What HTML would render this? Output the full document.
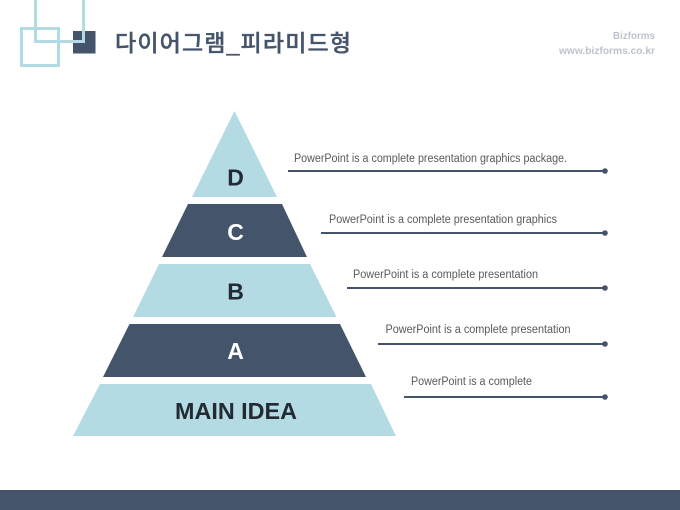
<!DOCTYPE html>
<html lang="ko">
<head>
<meta charset="utf-8">
<style>
html,body{margin:0;padding:0;width:680px;height:510px;background:#fff;overflow:hidden}
svg{display:block;filter:blur(0.3px)}
.k{font-family:"Liberation Sans","Noto Sans CJK KR",sans-serif}
.t{font-family:"Liberation Sans",sans-serif;font-size:11.5px;fill:#595959}
.l{font-family:"Liberation Sans",sans-serif;font-weight:700;font-size:23px;fill:#222b33;text-anchor:middle}
</style>
</head>
<body>
<svg width="680" height="510" viewBox="0 0 680 510" xmlns="http://www.w3.org/2000/svg">
<rect width="680" height="510" fill="#ffffff"/>
<rect x="0" y="490" width="680" height="20" fill="#44546a"/>

<!-- logo -->
<rect x="73" y="31" width="22.5" height="22.5" fill="#44546a"/>
<rect x="21.5" y="28.5" width="37" height="37" fill="none" stroke="#b4dae4" stroke-width="3"/>
<path d="M35.500 0V41.500H83.500V0" fill="none" stroke="#b4dae4" stroke-width="3"/>

<!-- title -->
<text class="k" x="115" y="51" font-size="23" font-weight="500" fill="#44546a" stroke="#44546a" stroke-width="0.35" textLength="236" lengthAdjust="spacing">다이어그램_피라미드형</text>
<text x="655" y="39" text-anchor="end" font-family="Liberation Sans,sans-serif" font-size="10" font-weight="700" fill="#bcc3cd" textLength="42" lengthAdjust="spacingAndGlyphs">Bizforms</text>
<text x="655" y="54" text-anchor="end" font-family="Liberation Sans,sans-serif" font-size="10" font-weight="700" fill="#bcc3cd" textLength="96" lengthAdjust="spacingAndGlyphs">www.bizforms.co.kr</text>

<!-- pyramid -->
<polygon points="234.500,111 277,197 192,197" fill="#b4dae4"/>
<polygon points="188,204 282,204 307,257 162,257" fill="#44546a"/>
<polygon points="159,264 310,264 336.500,317 133,317" fill="#b4dae4"/>
<polygon points="129.500,324 340,324 366,377 103,377" fill="#44546a"/>
<polygon points="100,384 371,384 396,436 73,436" fill="#b4dae4"/>

<text class="l" x="235.500" y="185.500">D</text>
<text class="l" x="235.500" y="240" style="fill:#fff">C</text>
<text class="l" x="235.500" y="299.500">B</text>
<text class="l" x="235.500" y="359" style="fill:#fff">A</text>
<text class="l" x="236" y="419" textLength="122" lengthAdjust="spacingAndGlyphs">MAIN IDEA</text>

<!-- connectors -->
<g stroke="#44546a" stroke-width="2" fill="none">
<line x1="288" y1="171" x2="605" y2="171"/>
<line x1="321" y1="233" x2="605" y2="233"/>
<line x1="347" y1="288" x2="605" y2="288"/>
<line x1="378" y1="344" x2="605" y2="344"/>
<line x1="404" y1="397" x2="605" y2="397"/>
</g>
<g fill="#44546a">
<circle cx="605" cy="171" r="2.800"/>
<circle cx="605" cy="233" r="2.800"/>
<circle cx="605" cy="288" r="2.800"/>
<circle cx="605" cy="344" r="2.800"/>
<circle cx="605" cy="397" r="2.800"/>
</g>

<!-- labels -->
<text class="t" x="294" y="162" textLength="273" lengthAdjust="spacingAndGlyphs">PowerPoint is a complete presentation graphics package.</text>
<text class="t" x="329" y="223" textLength="228" lengthAdjust="spacingAndGlyphs">PowerPoint is a complete presentation graphics</text>
<text class="t" x="353" y="278" textLength="185" lengthAdjust="spacingAndGlyphs">PowerPoint is a complete presentation</text>
<text class="t" x="385.500" y="333" textLength="185" lengthAdjust="spacingAndGlyphs">PowerPoint is a complete presentation</text>
<text class="t" x="411" y="385" textLength="121" lengthAdjust="spacingAndGlyphs">PowerPoint is a complete</text>
</svg>
</body>
</html>
